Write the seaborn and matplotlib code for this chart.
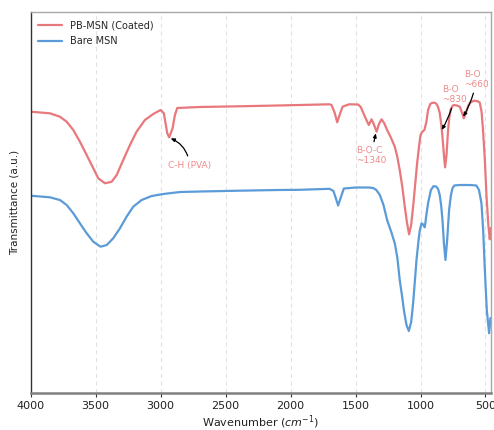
import matplotlib
matplotlib.use("Agg")
import matplotlib.pyplot as plt
import seaborn as sns

# ---- data (transmittance in arbitrary units) ----
coated_wn = [4000, 3852, 3775, 3723, 3672, 3621, 3569, 3518, 3480, 3428, 3377, 3338,
             3288, 3236, 3185, 3121, 3057, 3000, 2975, 2949, 2934, 2908, 2890, 2872,
             2700, 2400, 2100, 1930, 1700, 1685, 1660, 1641, 1620, 1600, 1550, 1480,
             1460, 1440, 1428, 1398, 1377, 1360, 1338, 1320, 1300, 1280, 1257, 1230,
             1198, 1180, 1160, 1140, 1121, 1105, 1088, 1072, 1057, 1040, 1026, 1010,
             1000, 985, 970, 955, 942, 925, 908, 890, 877, 865, 852, 840, 831, 820,
             811, 800, 788, 778, 769, 755, 744, 720, 698, 685, 667, 650, 634, 615,
             590, 560, 544, 530, 519, 505, 492, 478, 467, 460]
coated_t = [281.0, 279.4, 276.0, 271.0, 262.7, 251.0, 237.7, 224.4, 214.4, 209.4, 211.0, 217.7,
            232.7, 247.7, 261.0, 272.7, 278.7, 282.7, 279.4, 259.4, 255.4, 264.4, 277.7, 284.7,
            285.7, 286.4, 287.2, 287.7, 288.4, 287.7, 279.7, 270.4, 278.7, 286.0, 288.4, 288.2,
            285.7, 279.7, 276.0, 267.7, 273.4, 268.7, 261.0, 268.7, 273.4, 269.7, 262.7, 255.7,
            246.0, 236.7, 222.7, 205.7, 186.0, 170.7, 158.4, 167.7, 186.0, 209.7, 229.7, 247.7,
            257.7, 261.2, 262.7, 270.7, 282.7, 288.7, 290.0, 289.9, 288.7, 285.7, 279.7, 267.7, 256.0, 237.7,
            225.4, 237.7, 262.7, 275.7, 282.7, 286.7, 287.7, 287.2, 286.0, 281.7, 274.4, 279.7, 286.7, 290.2,
            292.0, 291.5, 290.0, 280.7, 262.7, 232.7, 196.0, 167.7, 153.4, 164.7]

bare_wn = [4000, 3852, 3775, 3723, 3672, 3621, 3569, 3518, 3462, 3415, 3365, 3313,
           3262, 3211, 3146, 3069, 2980, 2852, 2700, 2400, 2100, 1930, 1700, 1670, 1650,
           1634, 1615, 1590, 1500, 1400, 1364, 1340, 1313, 1285, 1257, 1225, 1198,
           1178, 1160, 1140, 1128, 1108, 1090, 1072, 1057, 1044, 1031, 1015, 1005,
           992, 980, 967, 955, 942, 920, 900, 880, 865, 852, 840, 831, 820, 808,
           795, 780, 766, 754, 740, 700, 620, 570, 550, 531, 518, 505, 490, 472, 462]
bare_t = [197.0, 195.4, 192.7, 187.7, 179.4, 169.4, 159.4, 151.0, 146.0, 147.7, 154.4, 164.4,
          176.0, 186.0, 192.7, 196.7, 198.7, 200.7, 201.2, 202.0, 202.7, 202.9, 203.9, 201.7, 193.7,
          187.2, 194.7, 204.2, 205.2, 205.2, 204.7, 202.7, 197.7, 187.7, 172.7, 160.7, 149.4,
          134.7, 112.7, 94.7, 82.7, 67.7, 61.7, 70.7, 89.4, 110.7, 132.7, 152.7, 162.7,
          169.4, 168.2, 165.4, 177.7, 189.4, 202.7, 206.5, 206.2, 203.7, 197.7, 185.7, 172.7, 149.7, 132.7,
          152.7, 182.7, 197.7, 204.4, 207.2, 207.7, 207.7, 207.2, 202.7, 189.4, 162.7, 122.7, 82.7, 59.4, 74.7]

series_labels = ["PB-MSN (Coated)", "Bare MSN"]
x_ticks = [4000, 3500, 3000, 2500, 2000, 1500, 1000, 500]

# annotations: (text, text_x, text_y, point_x, point_y, ha, rad)
annotations = [
    ("C-H (PVA)", 2778, 227.7, 2923, 254.4, "center", 0.3),
    ("B-O-C\n~1340", 1498, 237.0, 1344, 259.4, "left", 0.0),
    ("B-O\n~830", 831, 298.4, 838, 262.7, "left", -0.1),
    ("B-O\n~660", 665, 313.5, 672, 276.0, "left", -0.1),
]

# ---- style ----
sns.set_theme(style="white")
plt.rcParams["font.family"] = ["DejaVu Sans"]

red = "#e8787c"
blue = "#5a9bd8"
ann_color = "#f08a8c"

fig = plt.figure(figsize=(4.94, 4.30), dpi=100)
ax = fig.add_axes([0.0621, 0.0867, 0.9312, 0.8847])

sns.lineplot(x=coated_wn, y=coated_t, color=red, linewidth=1.6, label=series_labels[0], ax=ax)
sns.lineplot(x=bare_wn, y=bare_t, color=blue, linewidth=1.6, label=series_labels[1], ax=ax)

ax.set_xlim(4000, 460)
ax.set_ylim(0, 380.4)
ax.set_xticks(x_ticks)
ax.set_yticks([])

ax.grid(axis="x", color="#e2e2e2", linestyle=(0, (4, 3)), linewidth=0.8)
ax.set_axisbelow(True)

for side, col, lw in [("left", "#333333", 1.0), ("bottom", "#808080", 1.8),
                      ("top", "#a8a8a8", 1.0), ("right", "#a8a8a8", 1.0)]:
    ax.spines[side].set_color(col)
    ax.spines[side].set_linewidth(lw)

ax.tick_params(axis="x", bottom=True, length=3, width=0.8, color="#333333",
               labelsize=8, pad=3, labelcolor="#222222")

ax.set_xlabel("Wavenumber ($cm^{-1}$)", fontsize=8, color="#222222", labelpad=1.5)
ax.set_ylabel("Transmittance (a.u.)", fontsize=7.5, color="#222222", labelpad=8)

leg = ax.legend(loc="upper left", frameon=False, fontsize=7, handlelength=2.4,
                borderaxespad=0.4, labelspacing=0.6)

for txt, tx, ty, px, py, ha, rad in annotations:
    ax.annotate(txt, xy=(px, py), xytext=(tx, ty), ha=ha, va="center",
                fontsize=6.5, color=ann_color, linespacing=1.1,
                arrowprops=dict(arrowstyle="-|>,head_length=0.35,head_width=0.15",
                                color="black", lw=0.9,
                                connectionstyle=f"arc3,rad={rad}",
                                shrinkA=1, shrinkB=0))

fig.savefig("out.png", dpi=100)
